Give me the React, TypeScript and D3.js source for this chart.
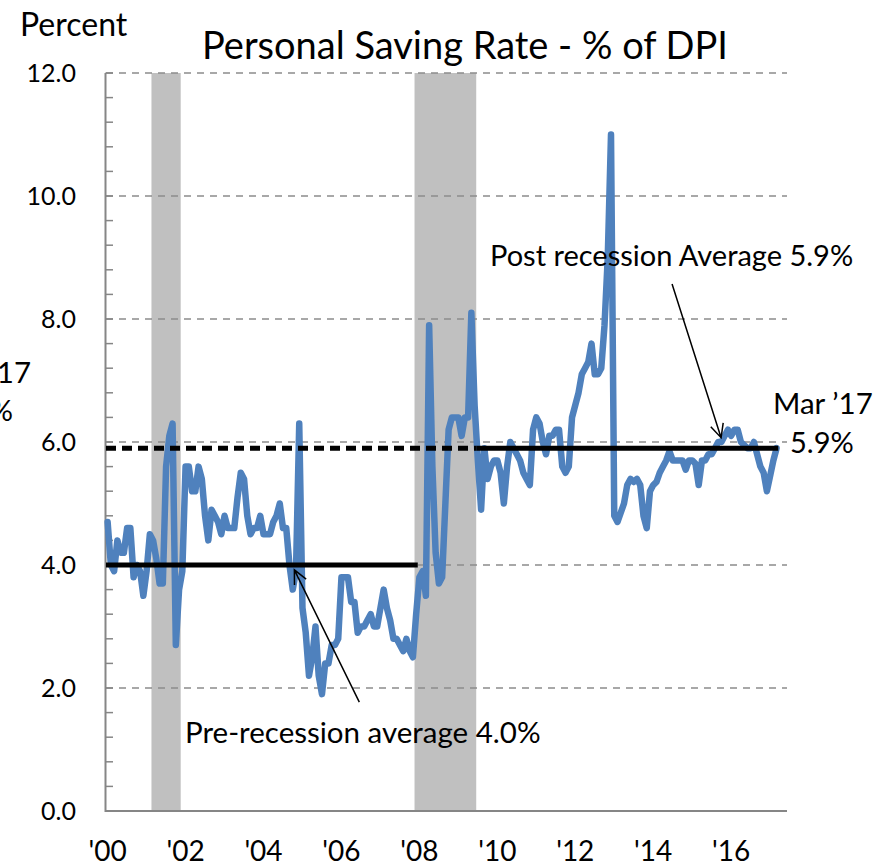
import React from 'react'
import * as d3 from 'd3'

// monthly personal saving rate, % of DPI, Jan 2000 - Mar 2017
const savingRate = [
  // 2000
  4.7, 4.0, 3.9, 4.4, 4.2, 4.2, 4.6, 4.6, 3.8, 4.0, 3.9, 3.5,
  // 2001
  3.9, 4.5, 4.4, 4.1, 3.7, 3.7, 5.6, 6.1, 6.3, 2.7, 3.6, 3.9,
  // 2002
  5.6, 5.6, 5.2, 5.2, 5.6, 5.4, 4.8, 4.4, 4.9, 4.8, 4.7, 4.5,
  // 2003
  4.8, 4.6, 4.6, 4.6, 5.1, 5.5, 5.4, 4.8, 4.5, 4.6, 4.6, 4.8,
  // 2004
  4.5, 4.5, 4.5, 4.7, 4.8, 5.0, 4.6, 4.6, 4.0, 3.6, 3.9, 6.3,
  // 2005
  3.3, 2.9, 2.2, 2.5, 3.0, 2.2, 1.9, 2.4, 2.4, 2.7, 2.7, 2.8,
  // 2006
  3.8, 3.8, 3.8, 3.4, 3.4, 2.9, 3.0, 3.0, 3.1, 3.2, 3.0, 3.0,
  // 2007
  3.3, 3.6, 3.3, 3.1, 2.8, 2.8, 2.7, 2.6, 2.8, 2.6, 2.5, 3.2,
  // 2008
  3.8, 3.9, 3.5, 7.9, 5.6, 4.2, 3.7, 3.8, 5.0, 6.2, 6.4, 6.4,
  // 2009
  6.4, 6.1, 6.4, 6.4, 8.1, 6.6, 5.7, 4.9, 5.9, 5.4, 5.6, 5.7,
  // 2010
  5.7, 5.5, 5.0, 5.6, 6.0, 5.9, 5.8, 5.7, 5.5, 5.4, 5.3, 6.2,
  // 2011
  6.4, 6.3, 6.0, 5.8, 6.1, 6.1, 6.2, 6.2, 5.6, 5.5, 5.6, 6.4,
  // 2012
  6.6, 6.8, 7.1, 7.2, 7.3, 7.6, 7.1, 7.1, 7.2, 7.9, 9.0, 11.0,
  // 2013
  4.8, 4.7, 4.85, 5.0, 5.3, 5.4, 5.35, 5.4, 5.3, 4.8, 4.6, 5.2,
  // 2014
  5.3, 5.35, 5.5, 5.6, 5.7, 5.85, 5.7, 5.7, 5.7, 5.7, 5.55, 5.7,
  // 2015
  5.7, 5.65, 5.3, 5.7, 5.7, 5.8, 5.8, 5.9, 6.0, 6.0, 6.1, 6.2,
  // 2016
  6.1, 6.2, 6.2, 6.0, 5.95, 5.9, 5.9, 6.0, 5.8, 5.6, 5.5, 5.2,
  // 2017
  5.45, 5.7, 5.9,
]

const recessions = [
  { start: '2001-03', end: '2001-11' },
  { start: '2007-12', end: '2009-06' },
]

const averages = [
  { start: '2000-01', end: '2007-12', value: 4.0, dashed: false },
  { start: '2000-01', end: '2009-06', value: 5.9, dashed: true },
  { start: '2009-07', end: '2017-03', value: 5.9, dashed: false },
]

const xTickLabels = ["'00", "'02", "'04", "'06", "'08", "'10", "'12", "'14", "'16"]
const yTickValues = [0, 2, 4, 6, 8, 10, 12]

const W = 875
const H = 866
const FONT = 'Lato, "Open Sans", sans-serif'

export default function App() {
  const months = d3.timeMonth.range(new Date(2000, 0, 1), new Date(2017, 6, 1))
  const fmt = d3.timeFormat('%Y-%m')
  const keys = months.map(fmt)

  const x = d3.scaleBand<string>().domain(keys).range([106, 788])
  const bw = x.bandwidth()
  const cx = (i: number) => (x(keys[0]) as number) + (i + 0.5) * bw
  const y = d3.scaleLinear().domain([0, 12]).range([811, 73])

  const line = d3.line<number>()
    .x((_, i) => cx(i))
    .y(d => y(d))

  const minorTicks = d3.range(0, 12.0001, 0.4)
  const gridTop = y(12)
  const gridBottom = y(0)

  const arrow = (i0: number, v0: number, i1: number, v1: number) => {
    const x0 = cx(i0), y0 = y(v0), x1 = cx(i1), y1 = y(v1)
    const a = Math.atan2(y1 - y0, x1 - x0)
    const len = 15, spread = Math.PI / 7
    const h1 = [x1 - len * Math.cos(a - spread), y1 - len * Math.sin(a - spread)]
    const h2 = [x1 - len * Math.cos(a + spread), y1 - len * Math.sin(a + spread)]
    return `M${x0},${y0}L${x1},${y1}M${h1[0]},${h1[1]}L${x1},${y1}L${h2[0]},${h2[1]}`
  }

  return (
    <div style={{ position: 'absolute', left: 0, top: 0 }}>
      <svg width={W} height={H} style={{ display: 'block', background: '#fff' }} fontFamily={FONT}>
        {/* recession shading */}
        {recessions.map(r => (
          <rect key={r.start} x={x(r.start)} y={gridTop} width={(x(r.end) as number) + bw - (x(r.start) as number)}
            height={gridBottom - gridTop} fill="#c0c0c0" />
        ))}

        {/* gridlines */}
        {yTickValues.filter(v => v > 0).map(v => (
          <line key={v} x1={106} x2={787} y1={y(v)} y2={y(v)} stroke="#8c8c8c" strokeWidth={1.5} strokeDasharray="7,6" />
        ))}

        {/* axes */}
        <line x1={105.5} x2={105.5} y1={gridTop} y2={gridBottom + 1} stroke="#868686" strokeWidth={2} />
        <line x1={105} x2={787} y1={gridBottom} y2={gridBottom} stroke="#868686" strokeWidth={2} />
        {minorTicks.map(v => (
          <line key={v} x1={105.5} x2={113} y1={y(v)} y2={y(v)} stroke="#868686" strokeWidth={1.5} />
        ))}

        {yTickValues.map(v => (
          <text key={v} x={76} y={y(v) + 9} textAnchor="end" fontSize={25} fill="#000">{v.toFixed(1)}</text>
        ))}
        {xTickLabels.map(l => {
          const k = `20${l.slice(1)}-01`
          return (
            <text key={l} x={(x(k) as number) + bw / 2} y={861} textAnchor="middle" fontSize={28} fill="#000">{l}</text>
          )
        })}

        {/* data line */}
        <path d={line(savingRate) || ''} fill="none" stroke="#4f81bd" strokeWidth={6.5} strokeLinejoin="round" strokeLinecap="round" />

        {/* averages */}
        {averages.map((a, idx) => (
          <line key={idx} x1={x(a.start)} x2={(x(a.end) as number) + bw} y1={y(a.value)} y2={y(a.value)}
            stroke="#000" strokeWidth={5} strokeDasharray={a.dashed ? '10,6' : undefined} />
        ))}

        {/* annotations */}
        <path d={arrow(77.5, 1.77, 57.5, 3.92)} fill="none" stroke="#000" strokeWidth={1.5} />
        <path d={arrow(173.8, 8.57, 188.9, 6.07)} fill="none" stroke="#000" strokeWidth={1.5} />

        <text x={20} y={36} fontSize={32}>Percent</text>
        <text x={465} y={59} textAnchor="middle" fontSize={38}>Personal Saving Rate - % of DPI</text>
        <text x={185} y={743} fontSize={29.5}>Pre-recession average 4.0%</text>
        <text x={490} y={266} fontSize={29}>Post recession Average 5.9%</text>
        <text x={773} y={414} fontSize={29.5}>Mar ’17</text>
        <text x={790} y={453} fontSize={29}>5.9%</text>
        {/* clipped label at left edge */}
        <text x={31} y={383} textAnchor="end" fontSize={29.5}>Mar ’17</text>
        <text x={13} y={421} textAnchor="end" fontSize={29}>5.9%</text>
      </svg>
    </div>
  )
}
